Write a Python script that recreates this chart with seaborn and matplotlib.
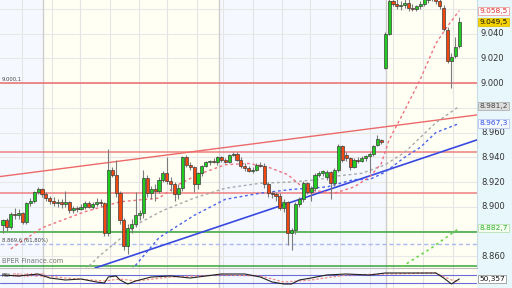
import matplotlib
matplotlib.use("Agg")
import matplotlib.pyplot as plt
import matplotlib.transforms as mtransforms
import numpy as np
import pandas as pd
import seaborn as sns

# ---------------- data ----------------
opens = [8885, 8889, 8884, 8894, 8893, 8895, 8888, 8903, 8905, 8912,
         8914, 8910, 8907, 8905, 8903, 8904, 8902, 8904, 8897, 8899,
         8898, 8900, 8903, 8900, 8902, 8904, 8903, 8879, 8930, 8926,
         8911, 8889, 8868, 8883, 8886, 8893, 8895, 8923, 8911, 8914,
         8913, 8922, 8927, 8921, 8918, 8910, 8915, 8940, 8934, 8932,
         8918, 8927, 8933, 8936, 8937, 8936, 8940, 8938, 8936, 8942,
         8943, 8938, 8933, 8931, 8929, 8930, 8934, 8933, 8918, 8911,
         8910, 8909, 8899, 8904, 8879, 8881, 8902, 8906, 8919, 8912,
         8915, 8926, 8927, 8924, 8928, 8919, 8930, 8949, 8942, 8939,
         8932, 8938, 8937, 8939, 8941, 8943, 8950, 8954, 9012, 9040,
         9066, 9064, 9062, 9063, 9065, 9061, 9060, 9062, 9064, 9067,
         9070, 9071, 9066, 9061, 9043, 9018, 9022, 9030]
highs = [8890, 8891, 8896, 8899, 8898, 8896, 8904, 8907, 8913, 8916,
         8915, 8912, 8909, 8908, 8906, 8906, 8913, 8905, 8901, 8901,
         8902, 8905, 8905, 8904, 8907, 8906, 8904, 8947, 8932, 8938,
         8913, 8891, 8886, 8890, 8912, 8897, 8930, 8926, 8917, 8918,
         8924, 8929, 8940, 8924, 8920, 8918, 8941, 8942, 8936, 8933,
         8928, 8934, 8937, 8938, 8939, 8941, 8941, 8939, 8943, 8944,
         8944, 8940, 8935, 8933, 8932, 8935, 8936, 8935, 8920, 8913,
         8912, 8911, 8906, 8905, 8883, 8904, 8908, 8921, 8920, 8917,
         8927, 8929, 8930, 8930, 8929, 8931, 8951, 8950, 8944, 8940,
         8939, 8940, 8941, 8942, 8944, 8950, 8958, 8955, 9041, 9072,
         9072, 9068, 9066, 9070, 9068, 9064, 9063, 9066, 9070, 9074,
         9075, 9074, 9071, 9063, 9045, 9024, 9037, 9053]
lows = [8879, 8880, 8882, 8890, 8890, 8886, 8886, 8901, 8903, 8910,
        8908, 8905, 8902, 8901, 8900, 8899, 8900, 8895, 8895, 8896,
        8897, 8898, 8899, 8898, 8901, 8901, 8876, 8876, 8924, 8908,
        8886, 8865, 8862, 8879, 8884, 8889, 8891, 8908, 8906, 8905,
        8911, 8920, 8918, 8913, 8905, 8906, 8913, 8932, 8930, 8912,
        8914, 8925, 8932, 8934, 8935, 8934, 8936, 8935, 8935, 8941,
        8937, 8931, 8929, 8928, 8927, 8929, 8932, 8915, 8908, 8907,
        8905, 8897, 8896, 8869, 8865, 8878, 8900, 8904, 8910, 8905,
        8913, 8924, 8925, 8922, 8906, 8917, 8928, 8936, 8937, 8930,
        8931, 8935, 8936, 8937, 8927, 8941, 8949, 8951, 9011, 9039,
        9062, 9060, 9059, 9061, 9058, 9058, 9058, 9060, 9062, 9065,
        9066, 9064, 9060, 9042, 9016, 8996, 9020, 9028]
closes = [8889, 8884, 8894, 8893, 8895, 8888, 8903, 8905, 8912, 8914,
          8910, 8907, 8905, 8903, 8904, 8902, 8904, 8897, 8899, 8898,
          8900, 8903, 8900, 8902, 8904, 8903, 8879, 8930, 8926, 8911,
          8889, 8868, 8883, 8886, 8893, 8895, 8923, 8911, 8914, 8913,
          8922, 8927, 8921, 8918, 8910, 8915, 8940, 8934, 8932, 8918,
          8927, 8933, 8936, 8937, 8936, 8940, 8938, 8936, 8942, 8943,
          8938, 8933, 8931, 8929, 8930, 8934, 8933, 8918, 8911, 8910,
          8909, 8899, 8904, 8879, 8881, 8902, 8906, 8919, 8912, 8915,
          8926, 8927, 8929, 8928, 8919, 8930, 8949, 8938, 8939, 8932,
          8938, 8937, 8939, 8941, 8943, 8949, 8955, 8952, 9040, 9066,
          9064, 9062, 9063, 9065, 9061, 9060, 9062, 9064, 9068, 9070,
          9071, 9066, 9062, 9044, 9018, 9021, 9029, 9049.5]

red_ma_idx = [2, 10, 21, 30, 40, 45, 50, 57, 63, 68, 73, 76, 80, 85, 90, 94,
              97, 99, 103, 107, 111, 114, 117]
red_ma_val = [8866, 8883, 8896, 8904, 8907, 8918, 8926, 8934, 8935, 8932, 8926,
              8918, 8913, 8911, 8916, 8924, 8935, 8954, 8978, 9003, 9032, 9046,
              9058.5]
gray_ma_idx = [20, 25, 35, 41, 49, 57, 66, 74, 81, 86, 92, 98, 103, 107, 111, 117]
gray_ma_val = [8846, 8861, 8887, 8897, 8907, 8915, 8919, 8920, 8922, 8925, 8927,
               8934, 8944, 8956, 8968, 8981.2]
blue_ma_idx = [33, 40, 49, 57, 66, 74, 83, 90, 94, 98, 103, 107, 111, 117]
blue_ma_val = [8849, 8875, 8893, 8906, 8911, 8914, 8916, 8922, 8922, 8928, 8940,
               8948, 8960, 8967.3]
green_ma_idx = [101, 110, 117]
green_ma_val = [8849, 8867, 8882.7]

red_levels = [9000.1, 8944.0, 8911.5]
green_levels = [8879.5, 8852.0]
fib_level = 8869.6
fib_text = "8.869,6 (61,80%)"
trend_red = [(-0.77, 8924.4), (121.5, 8974.2)]
trend_blue = [(42.8, 8870.8), (121.5, 8954.0)]

rsi_idx = [0, 4, 9, 12, 16, 20, 24, 26, 27, 29, 30, 32, 34, 38, 43, 48, 50, 56,
           62, 66, 69, 72, 74, 76, 79, 83, 88, 94, 98, 104, 111, 113, 115, 117]
rsi_val = [70, 65, 75, 55, 45, 50, 35, 30, 60, 65, 45, 25, 40, 60, 65, 55, 60, 75,
           75, 60, 35, 25, 25, 45, 55, 70, 75, 70, 80, 80, 80, 55, 25, 50.357]
sig_idx = [0, 9, 16, 26, 30, 34, 43, 56, 66, 72, 79, 88, 98, 111, 115, 117]
sig_val = [68, 70, 55, 40, 50, 40, 60, 70, 65, 35, 45, 70, 75, 80, 45, 38]
rsi_levels = [70, 30]

y_grid = [8860, 8880, 8900, 8920, 8940, 8960, 8980, 9000, 9020, 9040, 9060]
y_tick_labels = {9040: "9.040", 9020: "9.020", 9000: "9.000", 8960: "8.960",
                 8940: "8.940", 8920: "8.920", 8900: "8.900", 8860: "8.860"}
time_grid = [4.9, 12.6, 19.7, 27.4, 34.9, 42.1, 49.7, 56.4, 64.1, 71.5, 78.7,
             86.4, 94.1, 100.0, 107.7, 115.4]
day_breaks = [10.3, 55.4, 98.3]


def eu(v, d=1):
    s = f"{v:,.{d}f}"
    return s.replace(",", "X").replace(".", ",").replace("X", ".")


# ---------------- figure ----------------
sns.set_style("white")
plt.rcParams["font.family"] = ["DejaVu Sans"]

fig = plt.figure(figsize=(5.12, 2.88), dpi=100)
fig.patch.set_facecolor("#e8f7fc")
ax = fig.add_axes([0, 20 / 288, 477 / 512, 268 / 288])
ax2 = fig.add_axes([0, 0, 477 / 512, 20 / 288])

XMIN, XMAX = -0.77, 121.54
ax.set_xlim(XMIN, XMAX)
ax.set_ylim(8850.5, 9067.1)
ax2.set_xlim(XMIN, XMAX)
ax2.set_ylim(5, 105)

# background day bands
edges = [XMIN] + day_breaks + [XMAX]
band_cols = ["#f5f9ff", "#fffff4", "#f5f9ff", "#fffff4"]
for a in (ax, ax2):
    for k in range(len(edges) - 1):
        a.axvspan(edges[k], edges[k + 1], color=band_cols[k], lw=0, zorder=0)
    for g in time_grid:
        a.axvline(g, color="#e4e4e4", lw=0.8, zorder=0.5)
    for d in day_breaks:
        a.axvline(d, color="#cdcdcd", lw=1.0, zorder=0.6)
for v in y_grid:
    ax.axhline(v, color="#e8e8e8", lw=0.8, zorder=0.5)

# levels & trendlines
for v in red_levels:
    ax.axhline(v, color="#ec7474", lw=1.3 if v > 8990 else 1.1, alpha=0.9, zorder=2)
for v in green_levels:
    ax.axhline(v, color="#3aa63a", lw=1.1, zorder=2)
ax.axhline(fib_level, color="#a9b9f2", lw=1.0, ls=(0, (3, 2)), zorder=2)
ax.axline(trend_red[0], trend_red[1], color="#ec6a6a", lw=1.0, zorder=2)
ax.axline(trend_blue[0], trend_blue[1], color="#3848e0", lw=1.2, zorder=2)

# moving averages
sns.lineplot(x=gray_ma_idx, y=gray_ma_val, ax=ax, color="#a8a8a8", lw=1.0,
             linestyle=(0, (2, 2)), zorder=2.5)
sns.lineplot(x=blue_ma_idx, y=blue_ma_val, ax=ax, color="#4a64ea", lw=1.0,
             linestyle=(0, (2, 2)), zorder=2.5)
sns.lineplot(x=red_ma_idx, y=red_ma_val, ax=ax, color="#f0707e", lw=1.0,
             linestyle=(0, (2, 2)), zorder=2.5)
sns.lineplot(x=green_ma_idx, y=green_ma_val, ax=ax, color="#6ad64a", lw=1.2,
             linestyle=(0, (1.5, 2)), zorder=2.5)

# candles
df = pd.DataFrame(dict(o=opens, h=highs, l=lows, c=closes))
df["i"] = np.arange(len(df))
up = df["c"] >= df["o"]
ax.vlines(df["i"], df["l"], df["h"], color="#7c7c7c", lw=0.8, zorder=3)
bottom = np.minimum(df["o"], df["c"])
height = np.maximum((df["c"] - df["o"]).abs(), 1.0)
ax.bar(df["i"], height, bottom=bottom, width=0.78,
       color=np.where(up, "#1fcc1f", "#f2480f"), edgecolor="#3c3c3c",
       linewidth=0.5, zorder=4)

# axes cosmetics
for a in (ax, ax2):
    a.set_xticks([])
    a.set_yticks([])
    a.set_xlabel("")
    a.set_ylabel("")
    for s in a.spines.values():
        s.set_visible(False)
ax.spines["right"].set_visible(True)
ax.spines["right"].set_color("#c8dde8")
ax2.spines["top"].set_visible(True)
ax2.spines["top"].set_color("#bdbdbd")

trans = mtransforms.blended_transform_factory(ax.transAxes, ax.transData)
for v, lab in y_tick_labels.items():
    ax.text(1 + 4 / 477, v, lab, transform=trans, ha="left", va="center",
            fontsize=6, color="#333333", clip_on=False)


def badge(a, tr, v, text, fc, ec, tc):
    a.text(1 + 2.5 / 477, v, text, transform=tr, ha="left", va="center",
           fontsize=5.4, color=tc, clip_on=False, zorder=10,
           bbox=dict(boxstyle="square,pad=0.14", fc=fc, ec=ec, lw=0.6))


badge(ax, trans, red_ma_val[-1], eu(red_ma_val[-1]), "#ffffff", "#f0a0a0", "#e03030")
badge(ax, trans, closes[-1], eu(closes[-1]), "#f4d200", "#e0c000", "#111111")
badge(ax, trans, gray_ma_val[-1], eu(gray_ma_val[-1]), "#dedede", "#b0b0b0", "#444444")
badge(ax, trans, blue_ma_val[-1], eu(blue_ma_val[-1]), "#f4f8ff", "#b8c6f0", "#3050e0")
badge(ax, trans, green_ma_val[-1], eu(green_ma_val[-1]), "#f4fff0", "#b8e0b0", "#2fae2f")

# left side texts
ax.text(2 / 477, red_levels[0] + 1.2, eu(red_levels[0]), transform=trans,
        fontsize=3.8, color="#444444", va="bottom", ha="left")
ax.text(2 / 477, fib_level + 1.5, fib_text, transform=trans,
        fontsize=3.8, color="#444444", va="bottom", ha="left")
ax.text(2 / 477, 7 / 268, "BPER Finance.com", transform=ax.transAxes,
        fontsize=4.8, color="#777777", va="center", ha="left")

# RSI panel
for v in rsi_levels:
    ax2.axhline(v, color="#6a6ad8", lw=0.8, zorder=2)
sns.lineplot(x=sig_idx, y=sig_val, ax=ax2, color="#f08a8a", lw=0.9,
             linestyle=(0, (2, 1.5)), zorder=3)
sns.lineplot(x=rsi_idx, y=rsi_val, ax=ax2, color="#222222", lw=0.8, zorder=4)
ax2.set_xlabel("")
ax2.set_ylabel("")
ax2.set_xticks([])
ax2.set_yticks([])
ax2.text(2 / 477, 0.62, "RSI", transform=ax2.transAxes, fontsize=4,
         color="#444444", va="center", ha="left")
ax2.text(13 / 477, 0.62, "RSI (14 3 3)", transform=ax2.transAxes, fontsize=4,
         color="#f07070", va="center", ha="left")
trans2 = mtransforms.blended_transform_factory(ax2.transAxes, ax2.transData)
badge(ax2, trans2, rsi_val[-1], eu(rsi_val[-1], 3), "#ffffff", "#9a9a9a", "#111111")

fig.savefig("out.png", dpi=100, facecolor=fig.get_facecolor())
